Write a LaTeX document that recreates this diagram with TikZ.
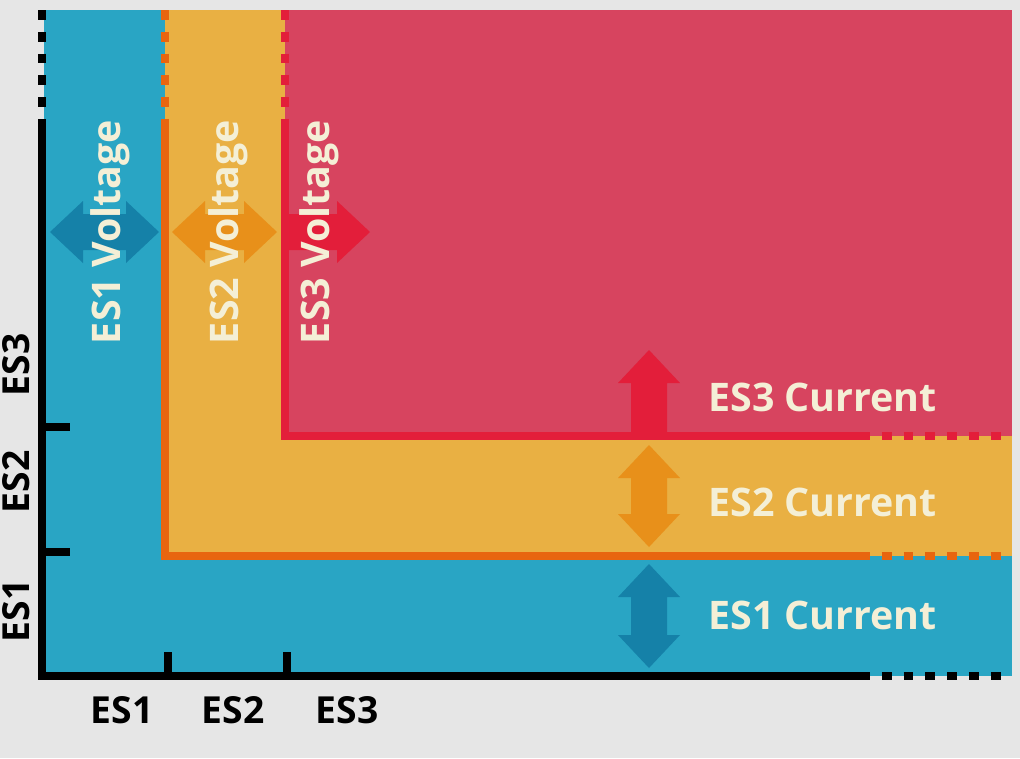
\documentclass[tikz,border=0pt]{standalone}
\usepackage{fontspec}
\setmainfont{Open Sans}
\usetikzlibrary{calc}
\definecolor{bg}{HTML}{E6E6E6}
\definecolor{esblue}{HTML}{29A5C4}
\definecolor{esyellow}{HTML}{E9B043}
\definecolor{esred}{HTML}{D7445F}
\definecolor{edgeorange}{HTML}{E8650F}
\definecolor{edgered}{HTML}{E31E3A}
\definecolor{arrblue}{HTML}{1581A8}
\definecolor{arrorange}{HTML}{E8901A}
\definecolor{arrred}{HTML}{E31E3A}
\definecolor{cream}{HTML}{F4EFD6}

\begin{document}
\begin{tikzpicture}[x=0.025cm, y=-0.025cm,
  lbl/.style={font=\bfseries\fontsize{28}{30}\selectfont, text=cream, inner sep=0},
  axlbl/.style={font=\bfseries\fontsize{26.5}{28}\selectfont, text=black, inner sep=0},
  edge/.style={line width=5pt},
  dotedge/.style={line width=5pt, dash pattern=on 7pt off 8.5pt}]
\fill[bg] (0,0) rectangle (1020,758);
\useasboundingbox (0,0) rectangle (1020,758);
\fill[esblue] (44,10) rectangle (1012,676);
\fill[esyellow] (165,10) rectangle (1012,556);
\fill[esred] (285,10) rectangle (1012,436);
\draw[edge, edgeorange] (165,128) -- (165,556) -- (860,556);
\draw[edge, edgered] (285,128) -- (285,436) -- (860,436);
\draw[dotedge, edgeorange] (165,10) -- (165,128);
\draw[dotedge, edgeorange] (860,556) -- (1012,556);
\draw[dotedge, edgered] (285,10) -- (285,128);
\draw[dotedge, edgered] (860,436) -- (1012,436);
\draw[edge, black] (42,128) -- (42,676) -- (860,676);
\draw[dotedge, black] (42,10) -- (42,128);
\draw[dotedge, black] (860,676) -- (1012,676);
\foreach \y in {427,552} {
 \draw[edge, black] (42,\y) -- ++(28,0);
}
\foreach \x in {168,287} {
 \draw[edge, black] (\x,676) -- ++(0,-24);
}
\foreach \a/\b/\c in {50/159/arrblue, 172/277/arrorange} {
 \fill[\c] (\a,232) -- ++(33,-31) -- ++(0,13) -- (\b-33,214) -- ++(0,-13) -- (\b,232)
   -- ++(-33,31) -- ++(0,-13) -- (\a+33,250) -- ++(0,13) -- cycle;
}
\fill[arrred] (285,214) -- (337,214) -- ++(0,-13) -- (370,232) -- (337,263) -- ++(0,-13)
  -- (285,250) -- cycle;
\foreach \a/\b/\c in {445/547/arrorange, 564/668/arrblue} {
 \fill[\c] (649,\a) -- ++(31,33) -- ++(-13,0) -- (667,\b-33) -- ++(13,0) -- (649,\b)
   -- ++(-31,-33) -- ++(13,0) -- (631,\a+33) -- ++(-13,0) -- cycle;
}
\fill[arrred] (631,436) -- (631,383) -- (618,383) -- (649,350) -- (680,383) -- (667,383)
  -- (667,436) -- cycle;
\node[lbl, rotate=90] (volt1) at (110,232) {ES1 Voltage};
\node[lbl, rotate=90] (volt2) at (228,232) {ES2 Voltage};
\node[lbl, rotate=90] (volt3) at (319,232) {ES3 Voltage};
\node[lbl, anchor=west] (cur3) at (708,397) {ES3 Current};
\node[lbl, anchor=west] (cur2) at (708,502) {ES2 Current};
\node[lbl, anchor=west] (cur1) at (708,615) {ES1 Current};
\node[axlbl] (xes1) at (122,710) {ES1};
\node[axlbl] (xes2) at (233,710) {ES2};
\node[axlbl] (xes3) at (347,710) {ES3};
\node[axlbl, rotate=90] (yes1) at (16,611) {ES1};
\node[axlbl, rotate=90] (yes2) at (16,482) {ES2};
\node[axlbl, rotate=90] (yes3) at (16,365) {ES3};
\end{tikzpicture}
\end{document}
